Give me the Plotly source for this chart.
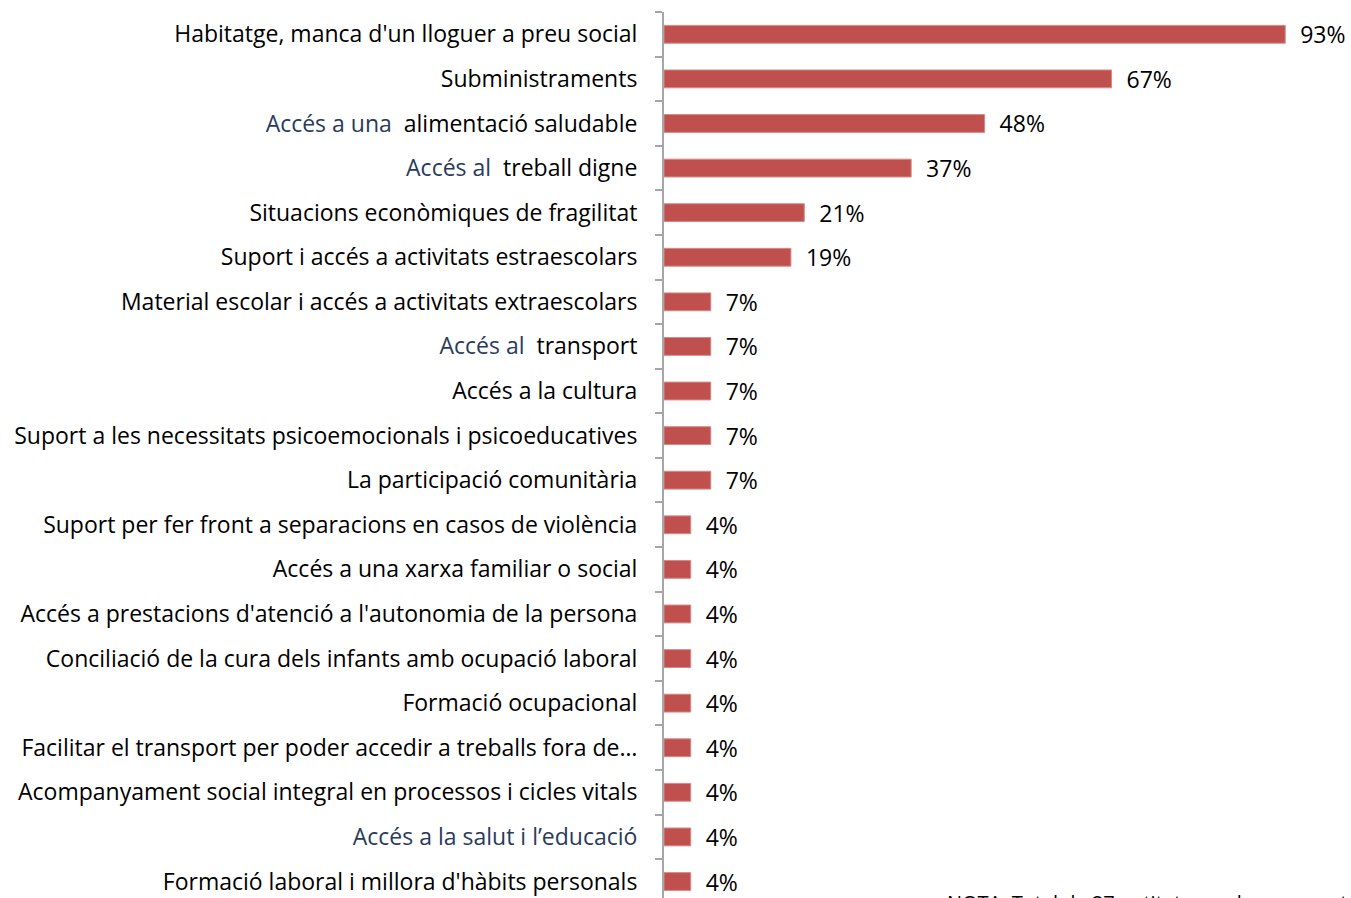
import plotly.graph_objects as go

navy = "#2A3B5C"

categories = [
    "Habitatge, manca d'un lloguer a preu social",
    "Subministraments",
    "<span style='color:%s'>Accés a una</span>  alimentació saludable" % navy,
    "<span style='color:%s'>Accés al</span>  treball digne" % navy,
    "Situacions econòmiques de fragilitat",
    "Suport i accés a activitats estraescolars",
    "Material escolar i accés a activitats extraescolars",
    "<span style='color:%s'>Accés al</span>  transport" % navy,
    "Accés a la cultura",
    "Suport a les necessitats psicoemocionals i psicoeducatives",
    "La participació comunitària",
    "Suport per fer front a separacions en casos de violència",
    "Accés a una xarxa familiar o social",
    "Accés a prestacions d'atenció a l'autonomia de la persona",
    "Conciliació de la cura dels infants amb ocupació laboral",
    "Formació ocupacional",
    "Facilitar el transport per poder accedir a treballs fora de…",
    "Acompanyament social integral en processos i cicles vitals",
    "<span style='color:%s'>Accés a la salut i l’educació</span>" % navy,
    "Formació laboral i millora d'hàbits personals",
]
values = [93, 67, 48, 37, 21, 19, 7, 7, 7, 7, 7, 4, 4, 4, 4, 4, 4, 4, 4, 4]
value_labels = ["%d%%" % v for v in values]

fig = go.Figure()
fig.add_trace(go.Bar(
    y=categories,
    x=values,
    orientation="h",
    marker=dict(color="#C0504D", line=dict(color="#D58A88", width=1)),
    text=["\u00a0\u00a0" + t for t in value_labels],
    textposition="outside",
    textfont=dict(family="Open Sans", size=23, color="#000000"),
    constraintext="none",
    cliponaxis=False,
))

fig.update_layout(
    width=1351,
    height=898,
    margin=dict(l=664, r=19, t=12, b=0),
    plot_bgcolor="white",
    paper_bgcolor="white",
    showlegend=False,
    bargap=0.6,
    font=dict(family="Open Sans", size=23, color="#000000"),
    annotations=[dict(
        text="NOTA: Total de 27 entitats que han respost",
        xref="paper", yref="paper", x=0.421, y=0, yshift=11,
        xanchor="left", yanchor="top", showarrow=False,
        font=dict(family="Open Sans", size=20, color="#000000"),
    )],
)
fig.update_xaxes(range=[0, 100], visible=False)
fig.update_yaxes(
    type="category",
    range=[19.37, -0.5],
    showline=True, linecolor="#A6A6A6", linewidth=2,
    ticks="outside", tickson="boundaries", ticklen=7, tickcolor="#A6A6A6", tickwidth=2,
    ticklabelstandoff=20,
    showgrid=False, zeroline=False,
)

fig.write_html("out.html", config={"displayModeBar": False},
               post_script="document.body.style.margin='0px';")
